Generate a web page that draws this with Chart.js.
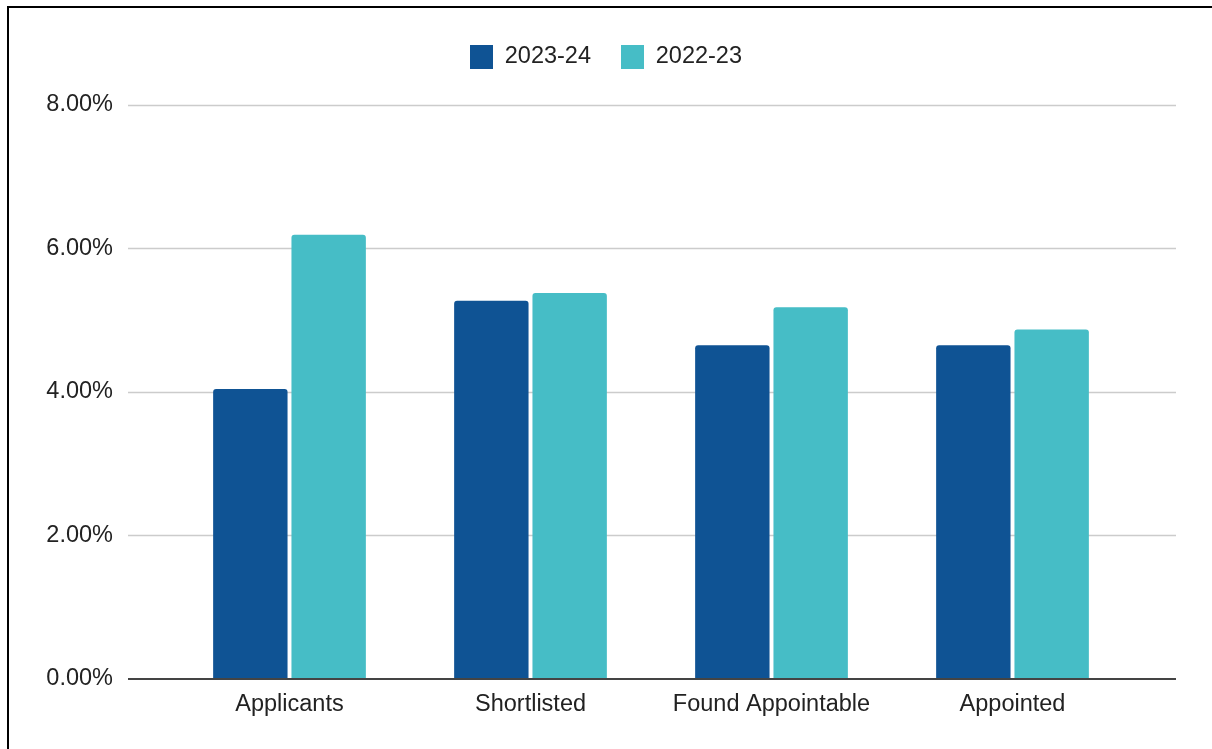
<!DOCTYPE html>
<html>
<head>
<meta charset="utf-8">
<script src="https://cdn.jsdelivr.net/npm/chart.js@4.4.1/dist/chart.umd.min.js"></script>
<style>
    html, body { margin: 0; padding: 0; background: #ffffff; }
    #wrap { position: relative; width: 1212px; height: 749px; overflow: hidden; }
    #frame {
        position: absolute; left: 7px; top: 6px; right: -10px; bottom: -10px;
        border-top: 2px solid #000; border-left: 2px solid #000;
        pointer-events: none;
    }
    canvas { position: absolute; left: 0; top: 0; }
</style>
</head>
<body>
<div id="wrap">
    <canvas id="chart" width="1212" height="749"></canvas>
    <div id="frame"></div>
</div>
<script>
const categories = ['Applicants', 'Shortlisted', 'Found Appointable', 'Appointed'];
const values2324 = [4.04, 5.27, 4.65, 4.65];
const values2223 = [6.19, 5.38, 5.18, 4.87];
const yTicks = [0, 2, 4, 6, 8];

const FONT = '"Liberation Sans", Arial, sans-serif';
const TEXT = '#222222';

// grid lines run wider than the category area, like the source sheet
const wideGrid = {
    id: 'wideGrid',
    beforeDatasetsDraw(chart) {
        const y = chart.scales.y;
        const area = chart.chartArea;
        const ctx = chart.ctx;
        ctx.save();
        ctx.strokeStyle = '#cccccc';
        ctx.lineWidth = 1.5;
        yTicks.forEach(function (v) {
            if (v === 0) return;
            const py = Math.round(y.getPixelForValue(v)) + 0.5;
            ctx.beginPath();
            ctx.moveTo(area.left - 41, py);
            ctx.lineTo(area.right + 43, py);
            ctx.stroke();
        });
        ctx.restore();
    },
    afterDatasetsDraw(chart) {
        const y = chart.scales.y;
        const area = chart.chartArea;
        const ctx = chart.ctx;
        const py = Math.round(y.getPixelForValue(0));
        ctx.save();
        ctx.strokeStyle = '#444444';
        ctx.lineWidth = 2;
        ctx.beginPath();
        ctx.moveTo(area.left - 41, py);
        ctx.lineTo(area.right + 43, py);
        ctx.stroke();
        ctx.restore();
    }
};

// extra room under the legend
const legendGap = {
    id: 'legendGap',
    beforeInit(chart) {
        const fit = chart.legend.fit;
        chart.legend.fit = function () {
            fit.call(this);
            this.height += 26;
        };
    }
};

new Chart(document.getElementById('chart').getContext('2d'), {
    type: 'bar',
    data: {
        labels: categories,
        datasets: [
            {
                label: '2023-24',
                data: values2324,
                backgroundColor: '#0f5394',
                borderRadius: 3,
                yAxisID: 'y'
            },
            {
                label: '2022-23',
                data: values2223,
                backgroundColor: '#46bdc6',
                borderRadius: 3,
                yAxisID: 'y'
            }
        ]
    },
    options: {
        responsive: false,
        animation: false,
        devicePixelRatio: 1,
        layout: { padding: { top: 15, bottom: 18, left: 0, right: 0 } },
        datasets: { bar: { categoryPercentage: 0.65, barPercentage: 0.95 } },
        plugins: {
            tooltip: { enabled: false },
            legend: {
                position: 'top',
                labels: {
                    boxWidth: 23,
                    boxHeight: 24,
                    padding: 30,
                    color: TEXT,
                    font: { family: FONT, size: 23.5 }
                }
            }
        },
        scales: {
            x: {
                grid: { display: false, drawTicks: false },
                border: { display: false },
                ticks: {
                    color: TEXT,
                    padding: 12,
                    font: { family: FONT, size: 23.5 }
                }
            },
            y: {
                position: 'left',
                min: 0,
                max: 8,
                grid: { display: false, drawTicks: false },
                border: { display: false },
                afterFit: function (scale) { scale.width = 169; },
                ticks: {
                    stepSize: 2,
                    color: TEXT,
                    padding: 56,
                    font: { family: FONT, size: 23.5 },
                    callback: function (value) { return value.toFixed(2) + '%'; }
                }
            },
            y2: {
                position: 'right',
                display: true,
                grid: { display: false, drawTicks: false },
                border: { display: false },
                ticks: { display: false },
                afterFit: function (scale) { scale.width = 79; }
            }
        }
    },
    plugins: [wideGrid, legendGap]
});
</script>
</body>
</html>
